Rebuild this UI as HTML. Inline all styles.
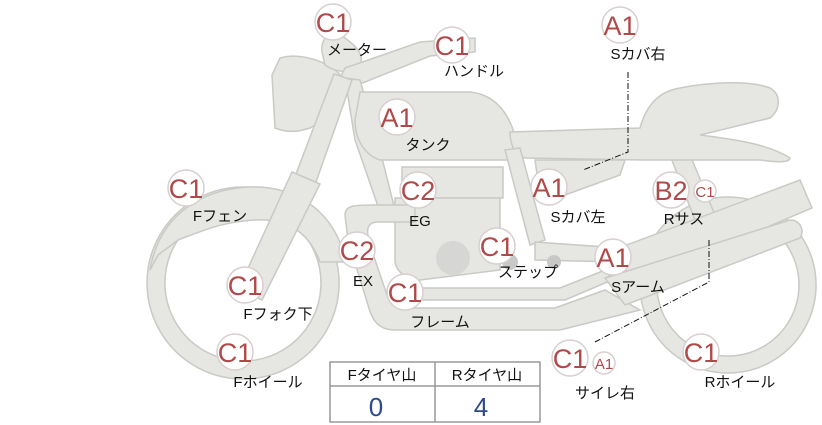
<!DOCTYPE html>
<html><head><meta charset="utf-8"><style>
html,body{margin:0;padding:0;background:#fff;}
svg{display:block;}
text{font-family:"Liberation Sans","Noto Sans CJK JP",sans-serif;}
.p{fill:#e6e6e3;stroke:#c9c9c6;stroke-width:1.5;}
.b{fill:#fff;stroke:#d8cfcf;stroke-width:1.5;}
.bt{fill:#b04a4a;font-size:27px;text-anchor:middle;}
.st{fill:#b04a4a;font-size:15px;text-anchor:middle;}
.l{fill:#111;font-size:15px;text-anchor:middle;}
</style></head><body>
<svg width="822" height="425" viewBox="0 0 822 425">
<path class="p" fill-rule="evenodd" d="M728,197a88,88 0 1,0 0.1,0zM728,214a71,71 0 1,1 -0.1,0z"/>
<path class="p" fill-rule="evenodd" d="M243,187a96,96 0 1,0 0.1,0zM243,205a78,78 0 1,1 -0.1,0z"/>
<path class="p" d="M150,270 C160,210 210,185 260,187 C310,190 340,225 345,262 L320,262 C310,235 290,218 255,220 C220,222 200,232 178,240 L158,255 Z"/>
<path class="p" d="M668,150 L688,150 L715,215 L695,220 Z"/>
<path class="p" d="M280,58 C300,52 330,62 340,75 C345,90 335,115 310,128 C295,133 285,132 275,128 L272,75 Z"/>
<path class="p" d="M322,52 C320,35 335,28 345,38 C355,45 365,55 360,65 C352,75 335,72 325,65 Z"/>
<path class="p" d="M340,78 L345,68 L420,42 L475,38 L475,52 L430,56 L355,86 Z"/>
<path class="p" d="M345,78 L360,80 L380,150 L395,210 L380,212 L355,140 Z"/>
<!-- fork -->
<path class="p" d="M334,74 L352,80 L316,182 L296,174 Z"/>
<path class="p" d="M292,172 L320,184 L262,300 L238,290 Z"/>
<path class="p" d="M360,92 L470,92 C500,95 515,120 520,160 L380,160 C365,155 355,140 355,120 Z"/>
<path class="p" d="M402,167 L503,167 L503,198 L402,198 Z"/>
<path class="p" d="M395,198 L500,198 L500,270 L420,280 C405,280 395,270 395,260 Z"/>
<circle cx="453" cy="258" r="17" fill="#d6d6d4"/>
<path class="p" d="M510,132 L640,128 C645,110 655,92 680,88 C720,80 755,82 770,88 C782,95 780,110 770,118 L700,135 C740,140 770,145 790,158 C790,162 780,163 760,160 L645,160 L525,158 C515,155 510,145 510,132 Z"/>
<path class="p" d="M535,160 L625,160 L620,175 L565,195 L540,195 Z"/>
<path class="p" d="M505,150 L520,148 L545,240 L530,245 Z"/>
<path class="p" d="M345,215 C345,205 355,205 375,205 L415,205 L415,222 L378,222 C368,222 365,228 370,245 L388,298 C392,305 400,308 410,308 L555,308 L605,290 L640,310 L560,330 L395,330 C378,330 372,320 368,305 L348,240 Z"/>
<path class="p" d="M400,288 L560,288 L605,270 L612,280 L565,300 L400,300 Z"/>
<path class="p" d="M535,242 L620,248 L620,262 L535,260 Z"/>
<circle cx="510" cy="262" r="8" fill="#c8c8c6"/><circle cx="554" cy="262" r="7" fill="#c8c8c6"/>
<path class="p" d="M600,255 L800,180 L812,208 L620,290 Z"/>
<path class="p" d="M605,278 L790,220 C800,220 805,230 800,238 L625,305 Z"/>
<polyline points="628,72 628,152 583,170" fill="none" stroke="#111" stroke-width="1" stroke-dasharray="6,2,1,2"/>
<polyline points="709,240 709,282 595,342" fill="none" stroke="#111" stroke-width="1" stroke-dasharray="6,2,1,2"/>
<g>
<circle class="b" cx="333" cy="22" r="18"/><text class="bt" x="333" y="32">C1</text>
<circle class="b" cx="452" cy="45" r="18"/><text class="bt" x="452" y="55">C1</text>
<circle class="b" cx="397" cy="117" r="18"/><text class="bt" x="397" y="127">A1</text>
<circle class="b" cx="620" cy="25" r="18"/><text class="bt" x="620" y="35">A1</text>
<circle class="b" cx="186" cy="188" r="18"/><text class="bt" x="186" y="198">C1</text>
<circle class="b" cx="418" cy="190" r="18"/><text class="bt" x="418" y="200">C2</text>
<circle class="b" cx="549" cy="187" r="18"/><text class="bt" x="549" y="197">A1</text>
<circle class="b" cx="671" cy="190" r="18"/><text class="bt" x="671" y="200">B2</text>
<circle class="b" cx="705" cy="191" r="11"/><text class="st" x="705" y="197">C1</text>
<circle class="b" cx="357" cy="250" r="18"/><text class="bt" x="357" y="260">C2</text>
<circle class="b" cx="497" cy="246" r="18"/><text class="bt" x="497" y="256">C1</text>
<circle class="b" cx="613" cy="257" r="18"/><text class="bt" x="613" y="267">A1</text>
<circle class="b" cx="245" cy="285" r="18"/><text class="bt" x="245" y="295">C1</text>
<circle class="b" cx="405" cy="292" r="18"/><text class="bt" x="405" y="302">C1</text>
<circle class="b" cx="235" cy="352" r="18"/><text class="bt" x="235" y="362">C1</text>
<circle class="b" cx="570" cy="358" r="18"/><text class="bt" x="570" y="368">C1</text>
<circle class="b" cx="604" cy="363" r="11"/><text class="st" x="604" y="369">A1</text>
<circle class="b" cx="701" cy="352" r="18"/><text class="bt" x="701" y="362">C1</text>
</g>
<text class="l" x="357" y="55">メーター</text>
<text class="l" x="474" y="76">ハンドル</text>
<text class="l" x="428" y="150">タンク</text>
<text class="l" x="638" y="59">Sカバ右</text>
<text class="l" x="220" y="221">Fフェン</text>
<text class="l" x="420" y="226">EG</text>
<text class="l" x="578" y="222">Sカバ左</text>
<text class="l" x="684" y="224">Rサス</text>
<text class="l" x="363" y="286">EX</text>
<text class="l" x="528" y="277">ステップ</text>
<text class="l" x="638" y="292">Sアーム</text>
<text class="l" x="278" y="319">Fフォク下</text>
<text class="l" x="440" y="327">フレーム</text>
<text class="l" x="268" y="387">Fホイール</text>
<text class="l" x="605" y="398">サイレ右</text>
<text class="l" x="740" y="387">Rホイール</text>
<rect x="330" y="362" width="210" height="60" fill="#fff" stroke="#999" stroke-width="1.5"/>
<line x1="330" y1="386" x2="540" y2="386" stroke="#999" stroke-width="1.5"/>
<line x1="435" y1="362" x2="435" y2="422" stroke="#999" stroke-width="1.5"/>
<text class="l" x="382" y="380">Fタイヤ山</text>
<text class="l" x="487" y="380">Rタイヤ山</text>
<text x="376" y="416" fill="#2d4a8a" font-size="26" text-anchor="middle">0</text>
<text x="481" y="416" fill="#2d4a8a" font-size="26" text-anchor="middle">4</text>
</svg>
</body></html>
